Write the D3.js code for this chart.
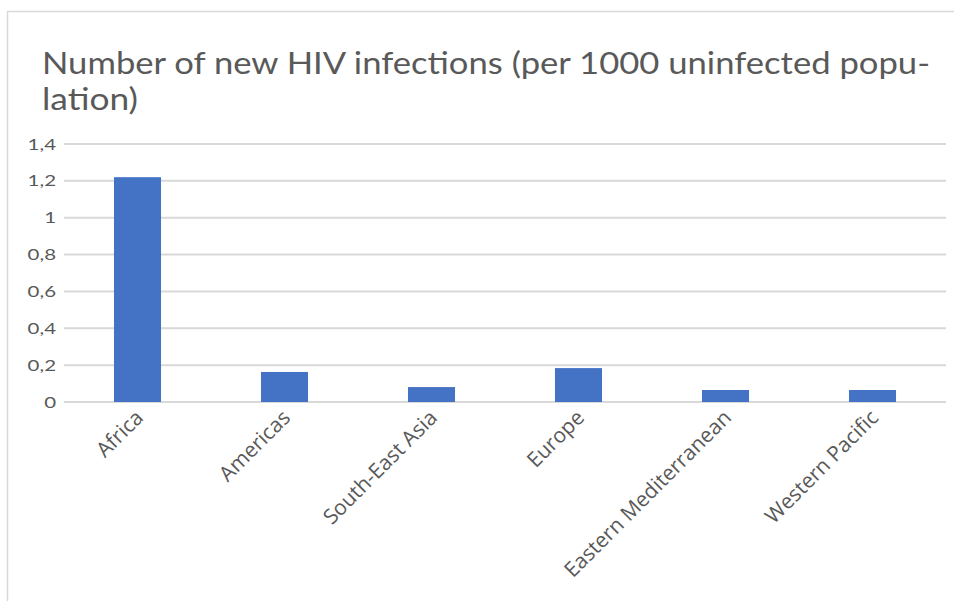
<!DOCTYPE html>
<html>
<head>
<meta charset="utf-8">
<script src="https://cdn.jsdelivr.net/npm/d3@7/dist/d3.min.js"></script>
<style>
  html, body { margin: 0; padding: 0; background: #fff; }
  svg { display: block; font-family: Lato, "Open Sans", sans-serif; }
</style>
</head>
<body>
<svg id="chart" width="954" height="601"></svg>
<script>
// Regional rates of new HIV infections per 1000 uninfected population
const regions = ["Africa", "Americas", "South-East Asia", "Europe", "Eastern Mediterranean", "Western Pacific"];
const rates = [1.22, 0.163, 0.081, 0.184, 0.065, 0.065];
const yTicks = [0, 0.2, 0.4, 0.6, 0.8, 1, 1.2, 1.4];
const titleLines = ["Number of new HIV infections (per 1000 uninfected popu-", "lation)"];
const titleWidths = [888, 96];

const svg = d3.select("#chart");
const W = 954, H = 601;
const margin = { left: 64, right: 8, top: 144, bottom: 199 };

// chart frame
svg.append("rect")
  .attr("x", 7.5).attr("y", 11.5)
  .attr("width", W + 10).attr("height", H + 10)
  .attr("fill", "#fff").attr("stroke", "#d9d9d9").attr("stroke-width", 1.5);

// title, wrapped over two lines
const title = svg.append("text")
  .attr("fill", "#595959")
  .attr("font-size", 31);
titleLines.forEach((t, i) => {
  title.append("tspan")
    .attr("x", 42).attr("y", 74 + i * 36)
    .attr("textLength", titleWidths[i])
    .attr("lengthAdjust", "spacingAndGlyphs")
    .text(t);
});

const x = d3.scaleBand()
  .domain(regions)
  .range([margin.left, W - margin.right])
  .paddingInner(0.68).paddingOuter(0.34);

const y = d3.scaleLinear()
  .domain([0, 1.4])
  .range([H - margin.bottom, margin.top]);

// horizontal gridlines
svg.append("g")
  .selectAll("line")
  .data(yTicks)
  .join("line")
  .attr("x1", margin.left).attr("x2", W - margin.right)
  .attr("y1", d => y(d)).attr("y2", d => y(d))
  .attr("stroke", "#d9d9d9").attr("stroke-width", 2);

// y axis labels (decimal comma), slightly widened glyphs
const fmt = d => String(d).replace(".", ",");
const yScaleX = 1.28;
const yAxis = d3.axisLeft(y).tickValues(yTicks).tickFormat(fmt).tickSize(0).tickPadding(8);
const gy = svg.append("g").attr("transform", `translate(${margin.left},0)`).call(yAxis);
gy.select(".domain").remove();
gy.selectAll("text")
  .attr("font-family", "Lato, sans-serif")
  .attr("font-size", 16)
  .attr("fill", "#595959")
  .attr("x", -8 / yScaleX)
  .attr("transform", `scale(${yScaleX},1)`);

// bars
svg.append("g")
  .selectAll("rect")
  .data(regions.map((r, i) => ({ r, v: rates[i] })))
  .join("rect")
  .attr("x", d => x(d.r))
  .attr("y", d => y(d.v))
  .attr("width", x.bandwidth())
  .attr("height", d => y(0) - y(d.v))
  .attr("fill", "#4472c4");

// x axis labels, rotated
const xAxis = d3.axisBottom(x).tickSize(0).tickPadding(0);
const gx = svg.append("g").attr("transform", `translate(0,${y(0)})`).call(xAxis);
gx.select(".domain").remove();
gx.selectAll("text")
  .attr("font-family", "'Open Sans', sans-serif")
  .attr("font-size", 21)
  .attr("fill", "#595959")
  .attr("text-anchor", "end")
  .attr("dy", 0)
  .attr("transform", "translate(7,17) rotate(-45)");
</script>
</body>
</html>
